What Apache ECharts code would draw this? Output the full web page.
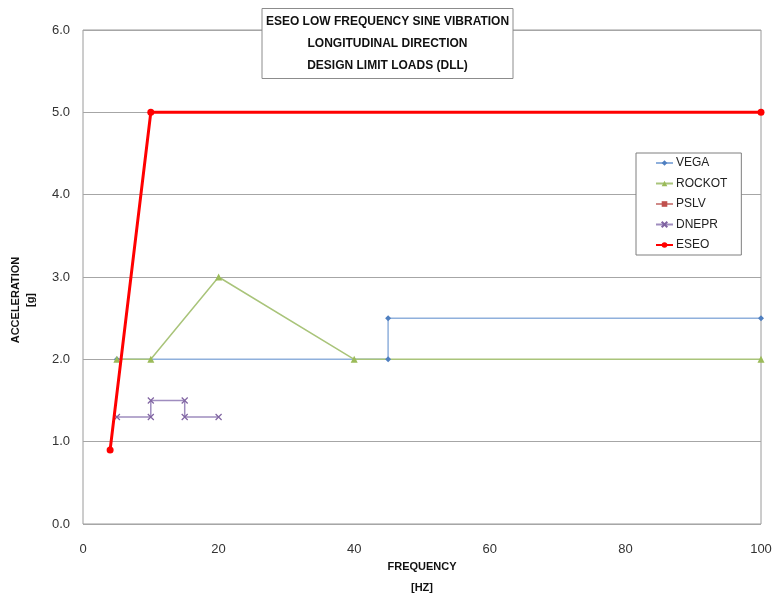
<!DOCTYPE html>
<html><head><meta charset="utf-8">
<script src="https://cdn.jsdelivr.net/npm/echarts@6/dist/echarts.min.js"></script>
<style>html,body{margin:0;padding:0;background:#fff}#c{width:775px;height:598px}</style>
</head><body><div id="c"></div>
<script>
const titleLines = ["ESEO LOW FREQUENCY SINE VIBRATION", "LONGITUDINAL DIRECTION", "DESIGN LIMIT LOADS (DLL)"];
const xName = "FREQUENCY\n[HZ]";
const yName = "ACCELERATION\n[g]";
const vegaX = [5, 45, 45, 100];
const vegaY = [2.0, 2.0, 2.5, 2.5];
const rockotX = [5, 10, 20, 40, 100];
const rockotY = [2.0, 2.0, 3.0, 2.0, 2.0];
const pslvX = [];
const pslvY = [];
const dneprX = [5, 10, 10, 15, 15, 20];
const dneprY = [1.3, 1.3, 1.5, 1.5, 1.3, 1.3];
const eseoX = [4, 10, 100];
const eseoY = [0.9, 5.0, 5.0];

const zip = (a, b) => a.map((v, i) => [v, b[i]]);
const font = '"Liberation Sans", Arial, sans-serif';
const xPath = 'path://M0,0L10,10M10,0L0,10';

const chart = echarts.init(document.getElementById('c'), null, {renderer: 'canvas'});
chart.setOption({
  animation: false,
  backgroundColor: '#fff',
  title: {
    text: titleLines.join('\n'),
    left: 'center', top: 8,
    backgroundColor: '#fff', borderColor: '#8c8c8c', borderWidth: 1,
    padding: [3, 4, 2, 4],
    textStyle: {fontFamily: font, fontWeight: 'bold', fontSize: 12, lineHeight: 22, color: '#111', align: 'center'}
  },
  grid: {left: 83, right: 14, top: 30, bottom: 74, outerBoundsMode: 'none', containLabel: false,
         show: true, borderColor: '#9a9a9a', borderWidth: 1, backgroundColor: '#fff'},
  legend: {
    orient: 'vertical', left: 636, top: 153,
    padding: [3, 14, 3, 19], itemGap: 6.5,
    borderColor: '#7f7f7f', borderWidth: 1, backgroundColor: '#fff',
    itemWidth: 17, itemHeight: 7,
    textStyle: {fontFamily: font, fontSize: 12, lineHeight: 14, color: '#222', padding: [0, 0, 0, -2]},
    data: ['VEGA', 'ROCKOT', 'PSLV', 'DNEPR', 'ESEO']
  },
  xAxis: {
    type: 'value', min: 0, max: 100, interval: 20,
    name: xName, nameLocation: 'middle', nameGap: 32, nameMoveOverlap: false,
    nameTextStyle: {fontFamily: font, fontWeight: 'bold', fontSize: 11, lineHeight: 21, color: '#111'},
    axisLine: {show: false}, axisTick: {show: false}, splitLine: {show: false},
    axisLabel: {fontFamily: font, fontSize: 13, color: '#333', margin: 19}
  },
  yAxis: {
    type: 'value', min: 0, max: 6, interval: 1,
    name: yName, nameLocation: 'middle', nameGap: 45, nameRotate: 90, nameMoveOverlap: false,
    nameTextStyle: {fontFamily: font, fontWeight: 'bold', fontSize: 11, lineHeight: 15, color: '#111', padding: [0, 46, 0, 0]},
    axisLine: {show: false}, axisTick: {show: false},
    splitLine: {show: true, lineStyle: {color: '#a6a6a6', width: 1}},
    axisLabel: {fontFamily: font, fontSize: 13, color: '#333', margin: 13, formatter: v => v.toFixed(1)}
  },
  series: [
    {name: 'VEGA', type: 'line', data: zip(vegaX, vegaY), symbol: 'diamond', symbolSize: 6,
     lineStyle: {color: '#8fb0dc', width: 1.5}, itemStyle: {color: '#4f7fc0'}},
    {name: 'ROCKOT', type: 'line', data: zip(rockotX, rockotY), symbol: 'triangle', symbolSize: 7,
     lineStyle: {color: '#a9c47a', width: 1.5}, itemStyle: {color: '#9bbb59'}},
    {name: 'PSLV', type: 'line', data: zip(pslvX, pslvY), symbol: 'rect', symbolSize: 6,
     lineStyle: {color: '#d08a88', width: 1.5}, itemStyle: {color: '#c0504d'}},
    {name: 'DNEPR', type: 'line', data: zip(dneprX, dneprY), symbol: xPath, symbolSize: 6,
     lineStyle: {color: '#9f8dbf', width: 1.5}, itemStyle: {color: 'rgba(0,0,0,0)', borderColor: '#8064a2', borderWidth: 1.2}},
    {name: 'ESEO', type: 'line', data: zip(eseoX, eseoY), symbol: 'circle', symbolSize: 7,
     lineStyle: {color: '#ff0000', width: 3}, itemStyle: {color: '#ff0000'}, z: 5}
  ]
});
</script></body></html>
